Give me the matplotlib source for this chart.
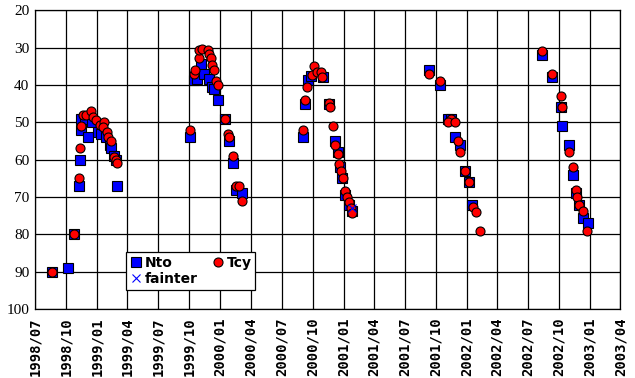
import pandas as pd
import matplotlib
matplotlib.use("Agg")
import matplotlib.pyplot as plt
import matplotlib.dates as mdates

# Nto (blue squares)
nto_dates = ["1998-08-20", "1998-10-06", "1998-10-24", "1998-11-09", "1998-11-11", "1998-11-15",
             "1998-11-14", "1998-11-26", "1998-12-06", "1998-12-18", "1999-01-04", "1999-01-14",
             "1999-01-29", "1999-02-09", "1999-02-12", "1999-02-19", "1999-02-27", "1999-03-01",
             "1999-10-04", "1999-10-14", "1999-10-24", "1999-11-06", "1999-11-13", "1999-11-28",
             "1999-12-08", "1999-12-13", "1999-12-25", "2000-01-15", "2000-01-27", "2000-02-09",
             "2000-02-16", "2000-03-06",
             "2000-09-03", "2000-09-08", "2000-09-16", "2000-09-26", "2000-10-31", "2000-11-18",
             "2000-12-06", "2000-12-16", "2000-12-20", "2000-12-28", "2001-01-06", "2001-01-16",
             "2001-01-25",
             "2001-09-11", "2001-10-14", "2001-11-06", "2001-11-16", "2001-11-28", "2001-12-13",
             "2001-12-27", "2002-01-07", "2002-01-17",
             "2002-08-13", "2002-09-11", "2002-10-06", "2002-10-11", "2002-10-31", "2002-11-13",
             "2002-11-20", "2002-11-30", "2002-12-12", "2002-12-25"]
nto_mag = [90, 89, 80, 67, 60, 52,
           49, 49, 54, 50, 52.5, 53,
           54, 56, 57, 59, 60, 67,
           54, 38.7, 38.5, 34.3, 37, 38.3,
           40.5, 41, 44, 49, 55, 61,
           68, 69,
           54, 45, 38.7, 37.5, 37.8, 45,
           55, 58, 62, 65, 69.5, 72,
           73.6,
           36, 40, 49, 49, 54, 56,
           63, 66, 72,
           32, 38, 46, 51, 56, 64,
           69, 72, 75.6, 77]

# Tcy (red circles)
tcy_dates = ["1998-08-20", "1998-10-24", "1998-11-09", "1998-11-11", "1998-11-15", "1998-11-19",
             "1998-11-29", "1998-12-15", "1998-12-20", "1998-12-30", "1999-01-09", "1999-01-22",
             "1999-01-19", "1999-01-31", "1999-02-03", "1999-02-12", "1999-02-19", "1999-02-27",
             "1999-03-02",
             "1999-10-04", "1999-10-14", "1999-10-19", "1999-10-29", "1999-10-31", "1999-11-08",
             "1999-11-26", "1999-11-30", "1999-12-06", "1999-12-08", "1999-12-15", "1999-12-20",
             "1999-12-26", "2000-01-15", "2000-01-23", "2000-01-27", "2000-02-09", "2000-02-16",
             "2000-02-26", "2000-03-06",
             "2000-09-03", "2000-09-08", "2000-09-14", "2000-09-28", "2000-10-05", "2000-10-13",
             "2000-10-27", "2000-10-30", "2000-11-18", "2000-11-22", "2000-11-30", "2000-12-06",
             "2000-12-16", "2000-12-18", "2000-12-23", "2000-12-31", "2001-01-06", "2001-01-11",
             "2001-01-18", "2001-01-23", "2001-01-25",
             "2001-09-11", "2001-10-14", "2001-11-16", "2001-11-06", "2001-11-28", "2001-12-07",
             "2001-12-13", "2001-12-27", "2002-01-07", "2002-01-19", "2002-01-28", "2002-02-09",
             "2002-08-13", "2002-09-11", "2002-10-06", "2002-10-11", "2002-10-31", "2002-11-13",
             "2002-11-20", "2002-11-23", "2002-11-28", "2002-12-10", "2002-12-22"]
tcy_mag = [90, 80, 65, 57, 51, 48,
           48, 47, 48.5, 49.4, 50.7, 49.8,
           51.2, 52.7, 53.8, 55, 59.2, 60.1,
           61,
           52, 37, 36, 32.9, 30.7, 30.5,
           30.6, 31.8, 32.9, 34.7, 36, 39,
           40, 49, 53, 54, 59, 67,
           67, 71,
           52, 44, 40.6, 37.3, 35, 36.5,
           36.6, 37.8, 44.9, 46, 51, 56,
           58.6, 61.2, 63, 64.8, 68.5, 70,
           71.4, 72.9, 74.3,
           37, 39, 49, 50, 50, 55,
           58, 63, 66, 72.6, 74, 79,
           31, 37, 43, 46, 58, 62,
           68, 70, 72, 73.8, 79]

# fainter (x)
faint_dates = ["2001-01-27"]
faint_mag = [73]

tick_dates = pd.date_range("1998-07-01", "2003-04-01", freq="3MS")

fig = plt.figure(figsize=(6.35, 3.78), dpi=100)
ax = fig.add_axes([0.055, 0.182, 0.922, 0.791])

ax.plot(pd.to_datetime(nto_dates), nto_mag, linestyle="none", marker="s", markersize=7,
        markerfacecolor="#0000ff", markeredgecolor="black", markeredgewidth=0.8, label="Nto", zorder=3)
ax.plot(pd.to_datetime(faint_dates), faint_mag, linestyle="none", marker="x", markersize=6,
        color="#0000ff", markeredgewidth=0.8, label="fainter", zorder=5)
ax.plot(pd.to_datetime(tcy_dates), tcy_mag, linestyle="none", marker="o", markersize=6.5,
        markerfacecolor="#ff0000", markeredgecolor="black", markeredgewidth=0.8, label="Tcy", zorder=4)

ax.set_xlim(tick_dates[0], tick_dates[-1])
ax.set_ylim(100, 20)
ax.set_yticks(range(20, 101, 10))
ax.set_xticks(tick_dates)
ax.xaxis.set_major_formatter(mdates.DateFormatter("%Y/%m"))
ax.grid(True, color="black", linewidth=0.9)
ax.set_axisbelow(True)
for s in ax.spines.values():
    s.set_linewidth(0.9)
ax.tick_params(length=0, pad=4)
ax.tick_params(axis="x", pad=6)
for lab in ax.get_yticklabels():
    lab.set_fontfamily("Liberation Serif")
    lab.set_fontsize(11)
for lab in ax.get_xticklabels():
    lab.set_fontfamily("DejaVu Sans Mono")
    lab.set_fontweight("bold")
    lab.set_fontsize(10)
    lab.set_rotation(90)

leg = ax.legend(loc="lower left", bbox_to_anchor=(0.155, 0.065), ncol=2, frameon=True,
                fancybox=False, edgecolor="black", framealpha=1,
                prop={"weight": "bold", "size": 10}, handletextpad=0.1, handlelength=1.0,
                columnspacing=1.0, borderpad=0.25, labelspacing=0.2, borderaxespad=0)
leg.get_frame().set_linewidth(0.9)

fig.savefig("out.png", dpi=100)
